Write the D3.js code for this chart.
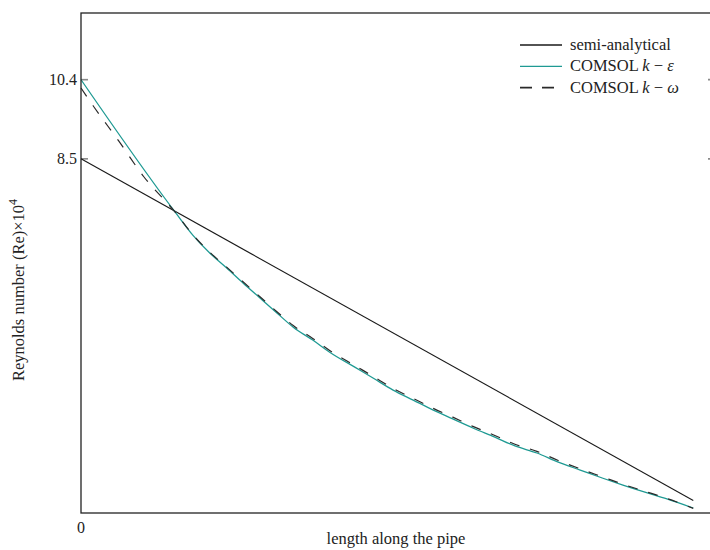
<!DOCTYPE html>
<html>
<head>
<meta charset="utf-8">
<script src="https://cdn.jsdelivr.net/npm/d3@7"></script>
<style>
  html, body { margin: 0; padding: 0; background: #fff; }
  svg { display: block; }
  text { font-family: "Liberation Serif", "DejaVu Serif", serif; fill: #222; }
</style>
</head>
<body>
<svg id="chart" width="710" height="550"></svg>
<script>
// Position along the pipe (normalised) and Reynolds number (×10^4)
const semiX = [0, 0.975];
const semiRe = [8.5, 0.30];

const kEpsX = [0, 0.150, 0.178, 0.205, 0.232, 0.258, 0.285, 0.312, 0.338, 0.369, 0.396, 0.436,
               0.465, 0.497, 0.529, 0.561, 0.592, 0.624, 0.659, 0.691, 0.726, 0.760, 0.795,
               0.830, 0.863, 0.898, 0.933, 0.975];
const kEpsRe = [10.4, 7.22, 6.67, 6.24, 5.88, 5.52, 5.16, 4.80, 4.46, 4.15, 3.86, 3.50,
                3.24, 2.95, 2.71, 2.47, 2.26, 2.04, 1.82, 1.61, 1.44, 1.22, 1.03,
                0.84, 0.67, 0.50, 0.34, 0.12];

const kOmX = [0, 0.019, 0.060, 0.100, 0.150, 0.178, 0.205, 0.232, 0.258, 0.285, 0.312, 0.338,
              0.369, 0.396, 0.436, 0.465, 0.497, 0.529, 0.561, 0.592, 0.624, 0.659, 0.691,
              0.726, 0.760, 0.795, 0.830, 0.863, 0.898, 0.933, 0.975];
const kOmRe = [10.2, 9.78, 8.93, 8.07, 7.22, 6.68, 6.26, 5.90, 5.55, 5.19, 4.83, 4.50,
               4.19, 3.90, 3.54, 3.28, 2.99, 2.75, 2.51, 2.30, 2.08, 1.86, 1.65,
               1.48, 1.26, 1.06, 0.87, 0.69, 0.52, 0.35, 0.11];

const yTicks = [8.5, 10.4];
const xTicks = [0];

const legendItems = [
  { name: ["semi-analytical"], color: "#1a1a1a", dash: null },
  { name: ["COMSOL ", { i: "k" }, " − ", { i: "ε" }], color: "#1f9a93", dash: null },
  { name: ["COMSOL ", { i: "k" }, " − ", { i: "ω" }], color: "#2a2a2a", dash: "12,10" }
];

const svg = d3.select("#chart");
const mLeft = 81, mRight = 715, mTop = 13, mBottom = 513;

const x = d3.scaleLinear().domain([0, 1.0096]).range([mLeft, mRight]);
const y = d3.scaleLinear().domain([0, 12]).range([mBottom, mTop]);

// tick marks (inward, both sides)
const tickG = svg.append("g");
yTicks.forEach(v => {
  tickG.append("line").attr("x1", mLeft).attr("x2", mLeft + 7)
    .attr("y1", y(v)).attr("y2", y(v)).attr("stroke", "#8a8a8a").attr("stroke-width", 1.6);
  tickG.append("line").attr("x1", mRight - 7).attr("x2", mRight)
    .attr("y1", y(v)).attr("y2", y(v)).attr("stroke", "#8a8a8a").attr("stroke-width", 1.6);
  svg.append("text").attr("x", mLeft - 4).attr("y", y(v) + 5)
    .attr("text-anchor", "end").attr("font-size", 16).text(v.toFixed(1));
});
xTicks.forEach(v => {
  svg.append("text").attr("x", x(v)).attr("y", 533)
    .attr("text-anchor", "middle").attr("font-size", 16).text(String(v));
});

// series
const zip = (a, b) => a.map((v, i) => [v, b[i]]);
const straight = d3.line().x(d => x(d[0])).y(d => y(d[1]));
const smooth = d3.line().x(d => x(d[0])).y(d => y(d[1])).curve(d3.curveMonotoneX);

svg.append("path").datum(zip(semiX, semiRe)).attr("d", straight)
  .attr("fill", "none").attr("stroke", "#1a1a1a").attr("stroke-width", 1.1);
svg.append("path").datum(zip(kEpsX, kEpsRe)).attr("d", smooth)
  .attr("fill", "none").attr("stroke", "#1f9a93").attr("stroke-width", 1.3);
svg.append("path").datum(zip(kOmX, kOmRe)).attr("d", smooth)
  .attr("fill", "none").attr("stroke", "#2a2a2a").attr("stroke-width", 1.2)
  .attr("stroke-dasharray", "10,11");

// frame
svg.append("rect").attr("x", mLeft).attr("y", mTop)
  .attr("width", mRight - mLeft).attr("height", mBottom - mTop)
  .attr("fill", "none").attr("stroke", "#222").attr("stroke-width", 1.3);

// legend
const lg = svg.append("g");
legendItems.forEach((d, i) => {
  const yy = 45 + i * 21.3;
  lg.append("line").attr("x1", 520).attr("x2", d.dash ? 554 : 562).attr("y1", yy).attr("y2", yy)
    .attr("stroke", d.color).attr("stroke-width", d.dash ? 1.6 : 1.3)
    .attr("stroke-dasharray", d.dash);
  const t = lg.append("text").attr("x", 570).attr("y", yy + 5).attr("font-size", 16.5);
  d.name.forEach(p => {
    if (typeof p === "string") t.append("tspan").text(p);
    else t.append("tspan").attr("font-style", "italic").text(p.i);
  });
});

// axis titles
svg.append("text").attr("x", 396).attr("y", 544).attr("text-anchor", "middle")
  .attr("font-size", 16.5).text("length along the pipe");
const yl = svg.append("text").attr("transform", "translate(24,290) rotate(-90)")
  .attr("text-anchor", "middle").attr("font-size", 16.5);
yl.append("tspan").text("Reynolds number (Re)×10");
yl.append("tspan").attr("dy", -7).attr("font-size", 12).text("4");
</script>
</body>
</html>
